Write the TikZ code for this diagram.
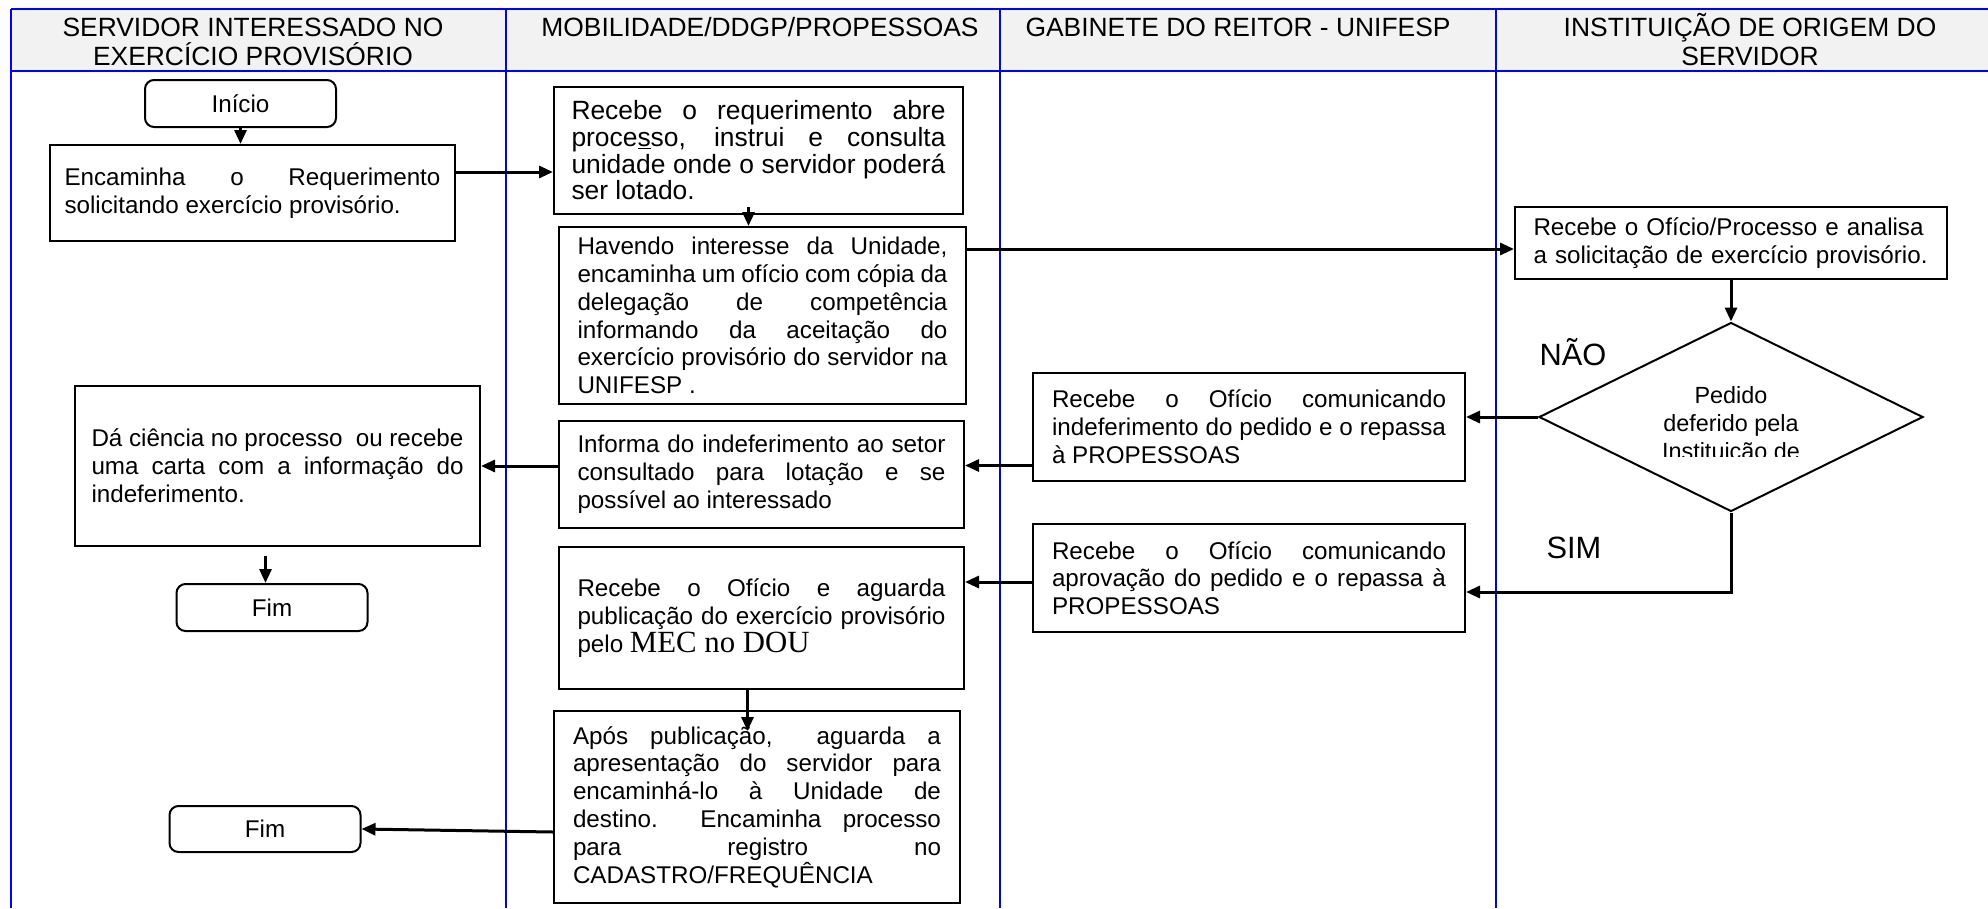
\documentclass[tikz,border=0pt]{standalone}
\usepackage{fontspec}
\setmainfont{Liberation Sans}
\newfontfamily\timesfont{Liberation Serif}
\usetikzlibrary{shapes.geometric,arrows.meta}
\newcommand{\txtsmall}{\fontsize{24.2}{27.8}\selectfont}
\newcommand{\txtbig}{\fontsize{26.4}{26.7}\selectfont}
\newcommand{\txthead}{\fontsize{26.4}{29}\selectfont}
\newcommand{\txtdiam}{\fontsize{23.4}{28}\selectfont}
\newcommand{\txtlabel}{\fontsize{30.8}{34}\selectfont}
\tolerance=10000
\hbadness=10000

\tikzset{
	lane/.style={draw=blue, line width=1.8pt},
	proc/.style={draw, line width=2pt, align=justify, inner xsep=4pt, inner ysep=2pt, font=\txtsmall},
	term/.style={draw, line width=2pt, rounded corners=9pt, minimum width=191pt, minimum height=47pt, font=\txtsmall},
	arr/.style={-{Triangle[length=14pt,width=12pt]}, line width=3pt},
	head/.style={anchor=base, align=center, font=\txthead, inner sep=0pt},
}

\begin{document}
\begin{tikzpicture}[x=1pt,y=-1pt]
	\useasboundingbox (0,0) rectangle (1988,908);
	\fill[black!5] (11,9) rectangle (1988,71);
	\draw[lane] (11,9) -- (1988,9);
	\draw[lane] (11,71) -- (1988,71);
	\foreach \x in {11,506,1000,1496}
		\draw[lane] (\x,9) -- (\x,908);

	\node[head] (h1) at (253,65) {SERVIDOR INTERESSADO NO\\EXERCÍCIO PROVISÓRIO};
	\node[head] (h2) at (760,36) {MOBILIDADE/DDGP/PROPESSOAS};
	\node[head] (h3) at (1238,36) {GABINETE DO REITOR - UNIFESP};
	\node[head] (h4) at (1750,65) {INSTITUIÇÃO DE ORIGEM DO\\SERVIDOR};

	\node[term] (inicio) at (240.5,103.5) {Início};
	\node[proc, text width=376pt, minimum width=405pt, minimum height=96pt] (encam) at (252.5,193) {Encaminha o Requerimento\linebreak solicitando exercício provisório.};
	\node[proc, font=\txtbig, text width=374pt, minimum width=409pt, minimum height=127pt] (abre) at (758.5,150.5) {Recebe o requerimento abre\linebreak proce\underline{s}so, instrui e consulta\linebreak unidade onde o servidor poderá\linebreak ser lotado.};
	\node[proc, text width=370pt, minimum width=407pt, minimum height=177pt] (havendo) at (762.5,315.5) {Havendo interesse da Unidade,\linebreak encaminha um ofício com cópia da\linebreak delegação de competência\linebreak informando da aceitação do\linebreak exercício provisório do servidor na\linebreak UNIFESP .};
	\node[proc, text width=372pt, minimum width=405pt, minimum height=160pt] (ciencia) at (277.5,466) {Dá ciência no processo\ \ ou recebe\linebreak uma carta com a informação do\linebreak indeferimento.};
	\node[proc, text width=368pt, minimum width=405pt, minimum height=107pt] (informa) at (761.5,474.5) {Informa do indeferimento ao setor\linebreak consultado para lotação e se\linebreak possível ao interessado};
	\node[term] (fimA) at (272,607.5) {Fim};
	\node[proc, text width=368pt, minimum width=405pt, minimum height=142pt] (aguarda) at (761.5,618) {Recebe o Ofício e aguarda\linebreak publicação do exercício provisório\linebreak pelo {\timesfont\fontsize{30.8}{30.8}\selectfont MEC no DOU}};
	\node[proc, text width=368pt, minimum width=406pt, minimum height=192pt] (apos) at (757,807) {Após publicação,\ \ aguarda a\linebreak apresentação do servidor para\linebreak encaminhá-lo à Unidade de\linebreak destino.\ \ Encaminha processo\linebreak para registro no\linebreak CADASTRO/FREQUÊNCIA};
	\node[term, minimum height=46pt] (fimB) at (265,829) {Fim};

	\node[proc, align=left, text width=395pt, minimum width=432pt, minimum height=72pt] (analisa) at (1731,243) {Recebe o Ofício/Processo e analisa\\a solicitação de exercício provisório.};
	\node[draw, diamond, line width=2pt, minimum width=384pt, minimum height=189pt, inner sep=0pt] (pedido) at (1731,417) {};
	\begin{scope}
		\clip (1540,370) rectangle (1922,456);
		\node[anchor=base, align=center, font=\txtdiam] (pedtxt) at (1731,459) {Pedido\\deferido pela\\Instituição de};
	\end{scope}
	\node[proc, text width=394pt, minimum width=432pt, minimum height=108pt] (indef) at (1249,427) {Recebe o Ofício comunicando\linebreak indeferimento do pedido e o repassa\linebreak à PROPESSOAS};
	\node[proc, text width=394pt, minimum width=432pt, minimum height=108pt] (aprov) at (1249,578) {Recebe o Ofício comunicando\linebreak aprovação do pedido e o repassa à\linebreak PROPESSOAS};
	\node[anchor=base, font=\txtlabel] (nao) at (1573,365) {NÃO};
	\node[anchor=base, font=\txtlabel] (sim) at (1574,558) {SIM};

	\draw[arr] (inicio.south) -- (inicio.south |- encam.north);
	\draw[arr] ([yshift=21pt]encam.east) -- ([yshift=21pt]encam.east -| abre.west);
	\draw[arr] ([xshift=-10pt,yshift=8pt]abre.south) -- ([xshift=-10pt]abre.south |- havendo.north);
	\draw[arr] ([yshift=-6pt]analisa.west -| havendo.east) -- ([yshift=-6pt]analisa.west);
	\draw[arr] (analisa.south) -- (pedido.north);
	\draw[arr] (pedido.west) -- (pedido.west -| indef.east);
	\draw[arr] ([yshift=9pt]informa.east -| indef.west) -- ([yshift=9pt]informa.east);
	\draw[arr] (informa.west |- ciencia.east) -- (ciencia.east);
	\draw[arr] ([xshift=-12pt,yshift=-9pt]ciencia.south) -- ([xshift=-12pt]ciencia.south |- fimA.north);
	\draw[arr] (pedido.south) |- ([yshift=-14pt]aprov.east);
	\draw[arr] ([yshift=-4pt]aprov.west) -- ([yshift=-4pt]aprov.west -| aguarda.east);
	\draw[arr] ([xshift=-14pt]aguarda.south) -- ([xshift=-14pt,yshift=-21pt]aguarda.south |- apos.north);
	\draw[arr] ([yshift=-25pt]apos.west) -- (fimB.east);
\end{tikzpicture}
\end{document}
